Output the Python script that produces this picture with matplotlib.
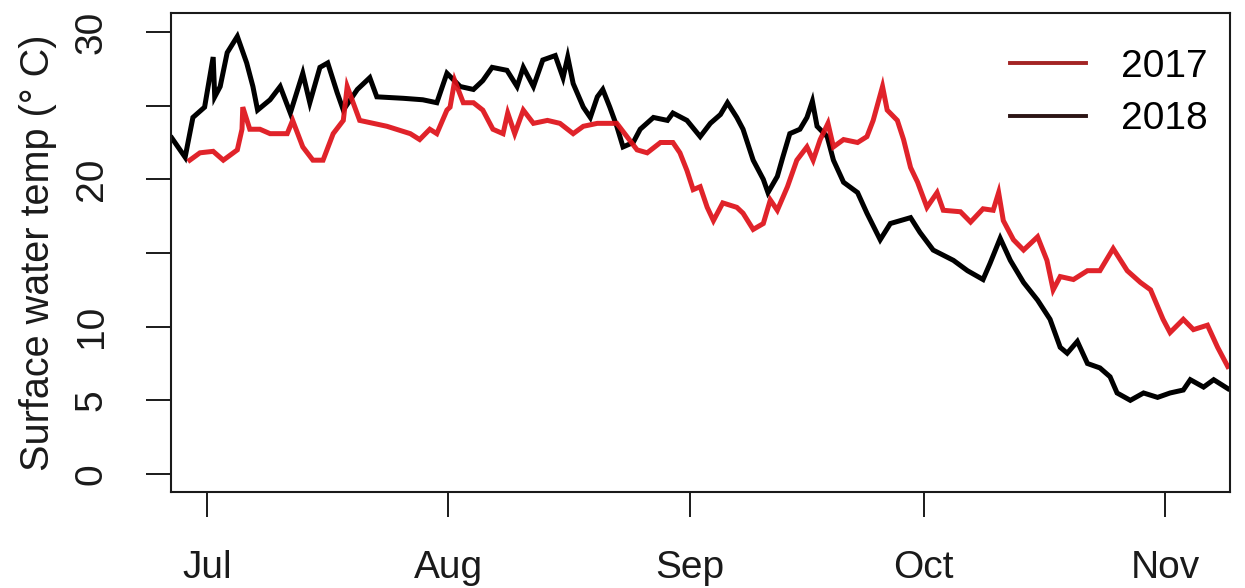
import matplotlib.pyplot as plt
from matplotlib.lines import Line2D

# days counted from 1 July, surface water temperature in deg C
days_2017 = [-2.2, -0.9, 0.8, 2.1, 3.9, 4.5, 4.6, 5.5, 6.8, 8.1, 10.3, 11.0, 12.3, 13.6,
             14.9, 16.2, 17.5, 18.0, 19.6, 23.1, 26.1, 27.3, 28.6, 29.5, 30.8, 31.2, 31.8,
             32.9, 34.2, 35.4, 36.7, 38.0, 38.6, 39.5, 40.6, 41.9, 43.7, 45.3, 47.0, 48.3,
             50.1, 51.4, 52.6, 53.9, 55.2, 56.5, 58.2, 59.8, 60.7, 61.6, 62.4, 63.3, 64.2,
             65.0, 66.2, 68.0, 68.8, 70.1, 71.4, 72.3, 73.2, 74.5, 75.7, 77.0, 77.8, 78.7,
             79.7, 80.4, 81.7, 83.5, 84.7, 85.5, 86.7, 87.3, 88.6, 89.4, 90.3, 91.2, 92.4,
             93.7, 94.5, 96.7, 98.0, 99.6, 100.9, 101.6, 102.2, 103.5, 104.8, 106.6, 107.8,
             108.6, 109.5, 111.2, 113.0, 114.6, 116.3, 118.1, 119.8, 121.1, 122.7, 123.6,
             125.3, 126.6, 128.4, 129.7, 131.0]
temp_2017 = [21.3, 21.8, 21.9, 21.3, 22.0, 23.4, 24.9, 23.4, 23.4, 23.1, 23.1, 24.0, 22.2, 21.3,
             21.3, 23.1, 24.0, 26.3, 24.0, 23.6, 23.1, 22.7, 23.4, 23.1, 24.7, 24.9, 26.7,
             25.2, 25.2, 24.7, 23.4, 23.1, 24.5, 23.1, 24.7, 23.8, 24.0, 23.8, 23.1, 23.6,
             23.8, 23.8, 23.8, 22.9, 22.0, 21.8, 22.5, 22.5, 21.8, 20.6, 19.3, 19.5, 18.1,
             17.2, 18.4, 18.1, 17.7, 16.6, 17.0, 18.6, 17.9, 19.5, 21.3, 22.2, 21.3, 22.7,
             23.8, 22.2, 22.7, 22.5, 22.9, 24.0, 26.3, 24.7, 24.0, 22.7, 20.8, 19.8, 18.1,
             19.1, 17.9, 17.8, 17.1, 18.0, 17.9, 19.1, 17.2, 15.9, 15.2, 16.1, 14.5,
             12.5, 13.4, 13.2, 13.8, 13.8, 15.3, 13.8, 13.0, 12.5, 10.5, 9.6,
             10.5, 9.8, 10.1, 8.6, 7.3]

days_2018 = [-4.5, -2.8, -1.8, -0.3, 0.8, 1.0, 1.7, 2.6, 3.9, 5.1, 5.9, 6.5, 8.1, 9.4, 10.7,
             12.3, 13.2, 14.5, 15.5, 16.7, 17.5, 19.3, 20.9, 21.8, 25.2, 27.7, 29.5, 30.8,
             32.5, 34.2, 35.4, 36.6, 38.5, 39.8, 40.6, 41.9, 43.1, 44.7, 45.7, 46.3, 47.0,
             48.3, 49.2, 50.1, 50.8, 51.7, 52.6, 53.4, 54.7, 55.6, 57.3, 59.1, 59.8, 61.6,
             63.3, 64.6, 65.9, 66.8, 68.0, 68.8, 70.1, 71.4, 72.0, 73.2, 73.9, 74.8, 76.1,
             77.0, 77.7, 78.3, 79.6, 80.4, 81.7, 83.5, 84.7, 86.4, 87.7, 90.3, 91.5, 93.2,
             95.8, 97.6, 99.6, 100.5, 101.8, 103.1, 104.8, 106.6, 108.2, 109.5, 110.4,
             111.7, 113.0, 114.6, 115.9, 116.8, 118.5, 120.2, 122.0, 123.6, 125.3, 126.2,
             127.9, 129.2, 131.0]
temp_2018 = [22.8, 21.5, 24.2, 24.9, 28.3, 25.6, 26.3, 28.6, 29.7, 27.9, 26.3, 24.7, 25.4, 26.3, 24.5,
             27.2, 25.2, 27.6, 27.9, 25.9, 24.7, 26.1, 26.9, 25.6, 25.5, 25.4, 25.2, 27.2,
             26.3, 26.1, 26.7, 27.6, 27.4, 26.3, 27.6, 26.3, 28.1, 28.4, 26.9, 28.3, 26.5,
             24.9, 24.2, 25.6, 26.1, 24.9, 23.6, 22.2, 22.5, 23.4, 24.2, 24.0, 24.5, 24.0,
             22.9, 23.8, 24.4, 25.2, 24.2, 23.4, 21.3, 20.0, 19.1, 20.2, 21.5, 23.1, 23.4,
             24.2, 25.3, 23.6, 22.9, 21.3, 19.8, 19.1, 17.7, 15.9, 17.0, 17.4, 16.4, 15.2,
             14.5, 13.8, 13.2, 14.3, 16.0, 14.5, 13.0, 11.8, 10.5, 8.6, 8.2,
             9.0, 7.5, 7.2, 6.6, 5.5, 5.0, 5.5, 5.2, 5.5, 5.7, 6.4,
             5.9, 6.4, 5.8]

month_days = [0, 31, 62, 92, 123]
month_labels = ['Jul', 'Aug', 'Sep', 'Oct', 'Nov']
y_ticks = [0, 5, 10, 15, 20, 25, 30]
y_labels = ['0', '5', '10', '', '20', '', '30']

plt.rcParams['font.family'] = ['Liberation Sans', 'DejaVu Sans']

fig = plt.figure(figsize=(12.45, 5.88), dpi=100)
ax = fig.add_axes([0.1373, 0.1633, 0.8507, 0.8146])

ax.plot(days_2018, temp_2018, color='black', lw=3.6, solid_joinstyle='miter')
ax.plot(days_2017, temp_2017, color='#de1018', lw=3.6, alpha=0.92, solid_joinstyle='miter')

ax.set_xlim(-4.62, 131.3)
ax.set_ylim(-1.22, 31.29)

ax.set_xticks(month_days)
ax.set_xticklabels(month_labels)
ax.set_yticks(y_ticks)
ax.set_yticklabels(y_labels, rotation=90, va='center')

ax.tick_params(axis='both', direction='out', length=18, width=1.4, labelsize=28, colors='#1a1a1a')
ax.tick_params(axis='x', pad=24)
ax.tick_params(axis='y', pad=26)
for s in ax.spines.values():
    s.set_linewidth(1.5)
    s.set_color('#1a1a1a')

ax.set_ylabel('Surface water temp (° C)', fontsize=28.5, color='#1a1a1a')
ax.yaxis.set_label_coords(-0.108, 0.5)

handles = [Line2D([], [], color='#a32424', lw=2.8), Line2D([], [], color='#2b1414', lw=2.8)]
ax.legend(handles, ['2017', '2018'], loc='upper right', bbox_to_anchor=(0.979, 0.925),
          frameon=False, fontsize=28, handlelength=1.95, handletextpad=0.9,
          labelspacing=0.42, borderpad=0, borderaxespad=0)

fig.savefig('out.png', dpi=100, facecolor='white')
